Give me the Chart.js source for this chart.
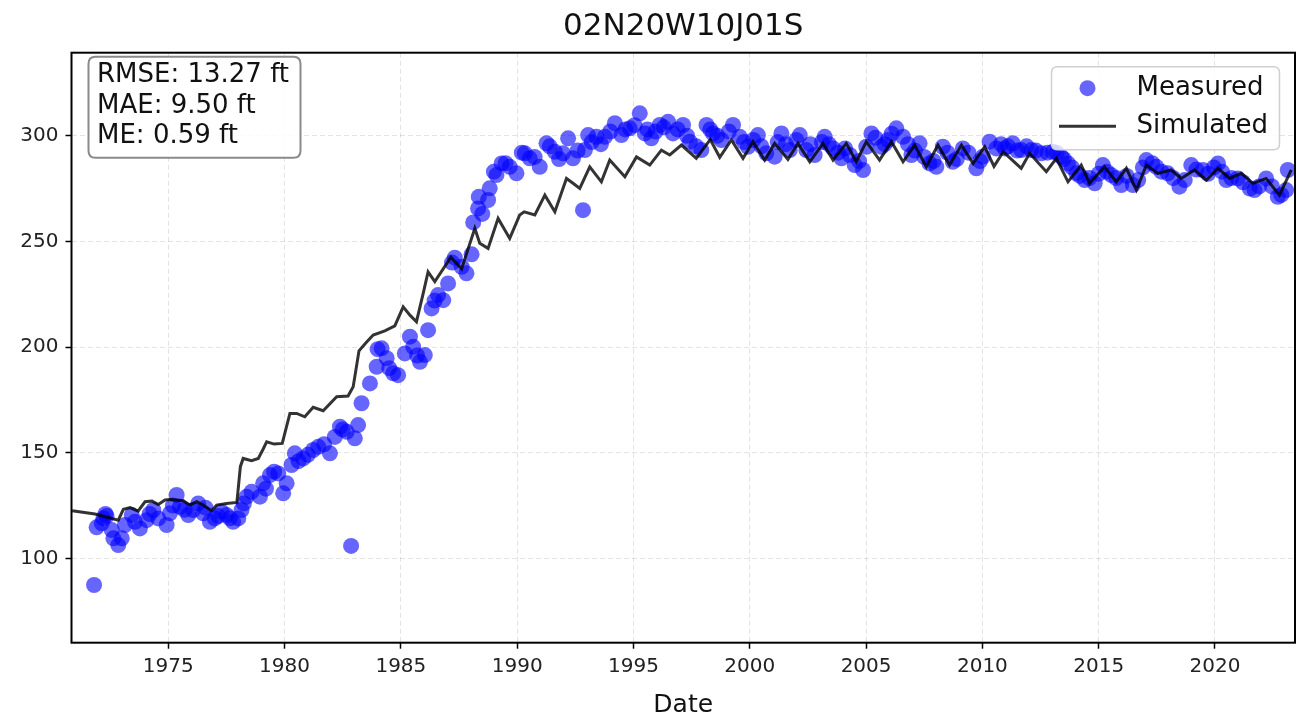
<!DOCTYPE html>
<html>
<head>
<meta charset="utf-8">
<script src="https://cdn.jsdelivr.net/npm/chart.js@4"></script>
<style>
html,body{margin:0;padding:0;background:#fff;}
#wrap{width:1307px;height:721px;position:relative;}
</style>
</head>
<body>
<div id="wrap"><canvas id="c" width="1307" height="721"></canvas></div>
<script>
const chartTitle = '02N20W10J01S';
const xAxisTitle = 'Date';
const xTickValues = [1975, 1980, 1985, 1990, 1995, 2000, 2005, 2010, 2015, 2020];
const yTickValues = [100, 150, 200, 250, 300];
const statLines = ['RMSE: 13.27 ft', 'MAE: 9.50 ft', 'ME: 0.59 ft'];
const measuredLabel = 'Measured';
const simulatedLabel = 'Simulated';

const measYears = [
  1971.81, 1971.92, 1972.14, 1972.21, 1972.35, 1972.57, 1972.64, 1972.85, 1973.0, 1973.14,
  1973.43, 1973.57, 1973.78, 1974.07, 1974.36, 1974.57, 1974.93, 1975.07, 1975.36, 1975.5,
  1975.86, 1976.07, 1976.29, 1976.5, 1976.79, 1977.0, 1977.29, 1977.51, 1977.79, 1978.01,
  1978.15, 1978.37, 1978.58, 1978.94, 1979.08, 1979.37, 1979.73, 1979.94, 1980.09, 1980.3,
  1980.44, 1980.8, 1981.23, 1981.45, 1981.95, 1982.16, 1982.38, 1982.67, 1982.86, 1983.02,
  1983.16, 1983.31, 1983.67, 1983.96, 1984.17, 1984.39, 1984.67, 1984.88, 1985.17, 1985.39,
  1985.53, 1985.82, 1986.03, 1986.17, 1986.32, 1986.6, 1986.82, 1987.03, 1987.32, 1987.61,
  1987.82, 1988.04, 1988.11, 1988.32, 1988.35, 1988.75, 1988.82, 1989.11, 1989.33, 1989.68,
  1989.97, 1990.33, 1990.54, 1990.97, 1991.26, 1991.62, 1991.97, 1992.19, 1992.4, 1992.83,
  1992.91, 1993.05, 1993.41, 1993.77, 1994.2, 1994.48, 1994.84, 1995.27, 1995.49, 1995.77,
  1996.13, 1996.49, 1996.7, 1997.13, 1997.42, 1997.92, 1998.14, 1998.42, 1998.78, 1999.28,
  1999.57, 1999.92, 2000.35, 2000.71, 2001.07, 2001.36, 2001.72, 2002.15, 2002.43, 2002.79,
  2003.22, 2003.58, 2003.94, 2004.3, 2004.51, 2004.87, 2005.01, 2005.23, 2005.66, 2005.94,
  2006.3, 2006.59, 2006.95, 2007.3, 2007.73, 2008.02, 2008.3, 2008.73, 2009.16, 2009.74,
  2010.02, 2010.31, 2010.6, 2010.96, 2011.31, 2011.67, 2012.1, 2012.53, 2013.03, 2013.39,
  2013.68, 2014.04, 2014.4, 2014.83, 2015.18, 2015.54, 2015.97, 2016.47, 2017.05, 2017.48,
  2017.97, 2018.47, 2018.98, 2019.48, 2020.13, 2020.49, 2020.98, 2021.7, 2022.2, 2022.7,
  2023.06, 2023.13,
  1972.3, 1974.2, 1975.2, 1975.7, 1976.6, 1977.15, 1977.65, 1978.25, 1979.2, 1979.55,
  1980.6, 1981.0, 1981.7, 1982.5, 1984.0, 1984.5, 1985.7, 1986.45, 1987.2, 1988.5,
  1989.0, 1989.5, 1990.2, 1990.75, 1991.4, 1991.8, 1992.6, 1993.2, 1993.6, 1994.0,
  1994.65, 1995.05, 1995.6, 1995.95, 1996.3, 1996.9, 1997.3, 1997.7, 1998.3, 1998.6,
  1999.1, 1999.75, 2000.15, 2000.5, 2001.2, 2001.55, 2002.0, 2002.6, 2003.1, 2003.4,
  2003.8, 2004.1, 2004.7, 2005.4, 2005.8, 2006.1, 2006.8, 2007.1, 2007.5, 2007.9,
  2008.5, 2008.9, 2009.4, 2009.9, 2010.8, 2011.1, 2011.5, 2011.9, 2012.3, 2012.8,
  2013.2, 2013.5, 2013.85, 2014.2, 2014.6, 2015.0, 2015.35, 2015.75, 2016.2, 2016.7,
  2016.9, 2017.3, 2017.7, 2018.2, 2018.7, 2019.2, 2019.7, 2019.95, 2020.3, 2020.7,
  2021.2, 2021.5, 2021.9, 2022.45, 2022.85
];
const measValues = [
  87.4, 114.7, 116.6, 118.9, 120.0, 113.4, 109.5, 106.3, 109.5, 115.8,
  120.5, 117.3, 114.2, 118.1, 122.9, 118.9, 115.8, 121.3, 130.0, 124.4,
  120.5, 122.9, 126.0, 121.3, 117.3, 118.9, 122.1, 120.5, 117.3, 118.9,
  122.9, 129.2, 131.5, 129.2, 135.5, 139.4, 140.2, 130.8, 135.5, 144.2,
  149.7, 147.3, 151.3, 152.8, 149.7, 157.5, 162.3, 159.9, 105.9, 156.8,
  163.1, 173.4, 182.8, 190.7, 199.4, 194.7, 187.6, 186.7, 197.0, 204.9,
  200.1, 193.0, 196.2, 208.0, 218.3, 224.6, 222.2, 230.1, 242.3, 238.0,
  234.9, 243.9, 259.0, 265.6, 271.1, 269.6, 275.1, 281.4, 286.9, 285.3,
  282.2, 291.7, 289.3, 285.3, 296.4, 292.4, 291.7, 298.8, 289.3, 264.8,
  293.2, 300.3, 299.5, 299.5, 305.9, 300.3, 303.5, 310.6, 301.1, 298.8,
  305.1, 306.6, 301.1, 305.1, 297.2, 293.2, 305.1, 301.1, 298.0, 305.1,
  299.5, 294.8, 300.3, 291.7, 290.1, 301.1, 293.2, 300.3, 293.2, 290.9,
  299.5, 294.0, 289.3, 290.9, 286.1, 283.8, 294.8, 301.1, 294.8, 298.0,
  303.5, 299.5, 290.9, 296.4, 286.9, 285.3, 294.8, 287.7, 294.0, 284.6,
  290.1, 297.2, 294.0, 294.0, 296.4, 293.2, 293.2, 291.7, 292.4, 290.1,
  286.9, 282.2, 279.0, 277.5, 286.1, 281.4, 276.7, 276.7, 288.5, 285.3,
  282.2, 275.9, 286.1, 283.8, 286.9, 279.0, 279.8, 274.3, 279.8, 271.1,
  274.3, 283.8,
  121.0, 121.0, 125.0, 123.0, 124.0, 120.0, 119.0, 126.0, 133.0, 141.0,
  146.0, 149.0, 154.0, 161.0, 199.0, 190.0, 196.0, 222.0, 240.0, 263.0,
  283.0, 287.0, 292.0, 290.0, 295.0, 289.0, 293.0, 297.0, 296.0, 302.0,
  303.0, 305.0, 303.0, 302.0, 304.0, 303.0, 300.0, 295.0, 303.0, 300.0,
  302.0, 297.0, 298.0, 295.0, 297.0, 296.0, 298.0, 296.0, 297.0, 296.0,
  292.0, 294.0, 288.0, 299.0, 296.0, 301.0, 296.0, 293.0, 290.0, 288.0,
  292.0, 289.0, 292.0, 288.0, 296.0, 295.0, 293.0, 295.0, 293.0, 292.0,
  292.0, 289.0, 285.0, 281.0, 280.0, 282.0, 283.0, 280.0, 281.0, 279.0,
  285.0, 287.0, 283.0, 280.0, 279.0, 284.0, 282.0, 285.0, 283.0, 280.0,
  278.0, 275.0, 276.0, 276.0, 272.0
];

const simYears = [
  1970.87, 1971.85, 1972.85, 1973.07, 1973.36, 1973.7, 1974.0, 1974.3, 1974.57, 1974.86,
  1975.07, 1975.36, 1975.65, 1975.93, 1976.22, 1976.5, 1976.86, 1977.08, 1977.51, 1977.95,
  1978.1, 1978.22, 1978.58, 1978.87, 1979.06, 1979.23, 1979.55, 1979.9, 1980.23, 1980.52,
  1980.87, 1981.23, 1981.66, 1982.24, 1982.73, 1982.95, 1983.2, 1983.5, 1983.81, 1984.31,
  1984.74, 1985.1, 1985.39, 1985.67, 1985.96, 1986.17, 1986.46, 1987.15, 1987.61, 1988.18,
  1988.39, 1988.75, 1989.18, 1989.68, 1990.11, 1990.3, 1990.76, 1991.19, 1991.62, 1992.12,
  1992.4, 1992.69, 1993.12, 1993.62, 1993.98, 1994.63, 1995.13, 1995.7, 1996.2, 1996.56,
  1997.06, 1997.7, 1998.3, 1998.71, 1999.21, 1999.71, 2000.14, 2000.64, 2001.07, 2001.64,
  2002.07, 2002.58, 2003.15, 2003.58, 2004.15, 2004.58, 2005.01, 2005.58, 2006.09, 2006.59,
  2007.09, 2007.59, 2008.09, 2008.59, 2009.1, 2009.6, 2010.1, 2010.5, 2010.9, 2011.67,
  2012.03, 2012.75, 2013.18, 2013.68, 2014.25, 2014.61, 2015.25, 2015.76, 2016.19, 2016.62,
  2017.05, 2017.55, 2018.12, 2018.55, 2019.12, 2019.63, 2020.13, 2020.63, 2021.13, 2021.63,
  2022.2, 2022.77, 2023.28
];
const simValues = [
  122.5, 121.0, 118.1, 123.2, 124.0, 122.4, 126.8, 127.1, 125.5, 127.6,
  127.9, 127.6, 127.3, 125.2, 126.8, 125.2, 122.5, 125.2, 126.0, 126.5,
  143.4, 147.3, 146.2, 147.3, 151.3, 155.2, 154.1, 154.4, 168.6, 168.6,
  167.0, 171.5, 169.9, 176.5, 176.8, 181.2, 198.2, 202.0, 205.7, 207.7,
  210.0, 219.0, 215.1, 212.0, 225.4, 235.6, 231.0, 242.5, 237.0, 256.2,
  249.1, 246.7, 260.9, 251.4, 262.5, 264.0, 262.5, 271.9, 264.0, 279.8,
  277.5, 275.1, 285.3, 278.2, 288.5, 280.6, 290.0, 286.1, 293.2, 290.9,
  295.6, 289.3, 298.2, 289.8, 298.0, 289.3, 297.2, 288.5, 296.4, 288.8,
  296.4, 287.7, 296.4, 288.5, 296.4, 287.7, 297.2, 288.5, 297.2, 287.7,
  295.6, 285.3, 295.6, 286.1, 295.6, 286.9, 294.8, 285.5, 292.4, 284.6,
  291.7, 283.0, 289.3, 278.2, 286.1, 277.5, 285.3, 278.2, 284.6, 274.3,
  286.1, 282.2, 283.8, 279.8, 283.8, 279.0, 284.6, 279.8, 282.2, 277.5,
  279.8, 271.9, 283.8
];

const FONT = "'DejaVu Sans', 'Liberation Sans', sans-serif";

function roundRect(ctx, x, y, w, h, r) {
  ctx.beginPath();
  ctx.moveTo(x + r, y);
  ctx.lineTo(x + w - r, y);
  ctx.quadraticCurveTo(x + w, y, x + w, y + r);
  ctx.lineTo(x + w, y + h - r);
  ctx.quadraticCurveTo(x + w, y + h, x + w - r, y + h);
  ctx.lineTo(x + r, y + h);
  ctx.quadraticCurveTo(x, y + h, x, y + h - r);
  ctx.lineTo(x, y + r);
  ctx.quadraticCurveTo(x, y, x + r, y);
  ctx.closePath();
}

const decorPlugin = {
  id: 'decor',
  afterDraw(chart) {
    const ctx = chart.ctx;
    const a = chart.chartArea;
    ctx.save();
    ctx.strokeStyle = '#000';
    ctx.lineWidth = 2;
    ctx.strokeRect(a.left, a.top, a.right - a.left, a.bottom - a.top);

    ctx.fillStyle = '#111';
    ctx.font = '31px ' + FONT;
    ctx.textAlign = 'center';
    ctx.textBaseline = 'middle';
    ctx.fillText(chartTitle, (a.left + a.right) / 2, 27);

    ctx.font = '25px ' + FONT;
    ctx.fillText(xAxisTitle, (a.left + a.right) / 2, 705);

    const bx = a.left + 17, by = a.top + 4, bw = 212, bh = 101;
    roundRect(ctx, bx, by, bw, bh, 7);
    ctx.fillStyle = 'rgba(255,255,255,0.85)';
    ctx.fill();
    ctx.strokeStyle = '#8a8a8a';
    ctx.lineWidth = 2;
    ctx.stroke();
    ctx.fillStyle = '#111';
    ctx.font = '26px ' + FONT;
    ctx.textAlign = 'left';
    ctx.textBaseline = 'middle';
    statLines.forEach((t, i) => ctx.fillText(t, bx + 8.5, by + 19 + i * 30.5));

    const ds = chart.data.datasets;
    const lx = a.right - 243.5, ly = a.top + 14, lw = 228, lh = 83;
    roundRect(ctx, lx, ly, lw, lh, 6);
    ctx.fillStyle = 'rgba(255,255,255,0.8)';
    ctx.fill();
    ctx.strokeStyle = '#d0d0d0';
    ctx.lineWidth = 1.5;
    ctx.stroke();
    const meas = ds.find(d => d.label === measuredLabel);
    const sim = ds.find(d => d.label === simulatedLabel);
    ctx.beginPath();
    ctx.arc(lx + 36, ly + 21.5, 8, 0, Math.PI * 2);
    ctx.fillStyle = meas.backgroundColor;
    ctx.fill();
    ctx.beginPath();
    ctx.moveTo(lx + 7.5, ly + 59.5);
    ctx.lineTo(lx + 64.5, ly + 59.5);
    ctx.strokeStyle = sim.borderColor;
    ctx.lineWidth = sim.borderWidth;
    ctx.stroke();
    ctx.fillStyle = '#111';
    ctx.font = '26px ' + FONT;
    ctx.textAlign = 'left';
    ctx.fillText(meas.label, lx + 85, ly + 21.5);
    ctx.fillText(sim.label, lx + 85, ly + 59.5);
    ctx.restore();
  }
};

const measuredData = measYears.map((x, i) => ({ x: x, y: measValues[i] }));
const simulatedData = simYears.map((x, i) => ({ x: x, y: simValues[i] }));

new Chart(document.getElementById('c'), {
  type: 'scatter',
  data: {
    datasets: [
      {
        label: simulatedLabel,
        data: simulatedData,
        showLine: true,
        borderColor: 'rgba(0,0,0,0.8)',
        backgroundColor: 'rgba(0,0,0,0.8)',
        borderWidth: 3,
        pointRadius: 0,
        tension: 0,
        order: 0
      },
      {
        label: measuredLabel,
        data: measuredData,
        backgroundColor: 'rgba(0,0,255,0.6)',
        borderWidth: 0,
        pointRadius: 8,
        pointHoverRadius: 8,
        order: 1
      }
    ]
  },
  options: {
    responsive: false,
    devicePixelRatio: 1,
    animation: false,
    layout: { padding: { top: 52.7, right: 12, left: 0, bottom: 0 } },
    plugins: { legend: { display: false }, title: { display: false }, tooltip: { enabled: false } },
    scales: {
      x: {
        type: 'linear',
        min: 1970.84,
        max: 2023.44,
        afterBuildTicks: s => { s.ticks = xTickValues.map(v => ({ value: v })); },
        afterFit: s => { s.height = 78.3; },
        ticks: {
          font: { family: FONT, size: 20 },
          color: '#222',
          padding: 6,
          maxRotation: 0,
          autoSkip: false,
          callback: v => String(v)
        },
        grid: {
          color: 'rgba(0,0,0,0.11)',
          lineWidth: 1,
          drawTicks: true,
          tickLength: 6,
          tickColor: '#000',
          tickWidth: 1.5,
          tickBorderDash: []
        },
        border: { display: false, dash: [5, 3] }
      },
      y: {
        type: 'linear',
        min: 60.1,
        max: 339.3,
        afterBuildTicks: s => { s.ticks = yTickValues.map(v => ({ value: v })); },
        afterFit: s => { s.width = 71.5; },
        ticks: {
          font: { family: FONT, size: 20 },
          color: '#222',
          padding: 7,
          autoSkip: false,
          callback: v => String(v)
        },
        grid: {
          color: 'rgba(0,0,0,0.11)',
          lineWidth: 1,
          drawTicks: true,
          tickLength: 6,
          tickColor: '#000',
          tickWidth: 1.5,
          tickBorderDash: []
        },
        border: { display: false, dash: [5, 3] }
      }
    }
  },
  plugins: [decorPlugin]
});
</script>
</body>
</html>
